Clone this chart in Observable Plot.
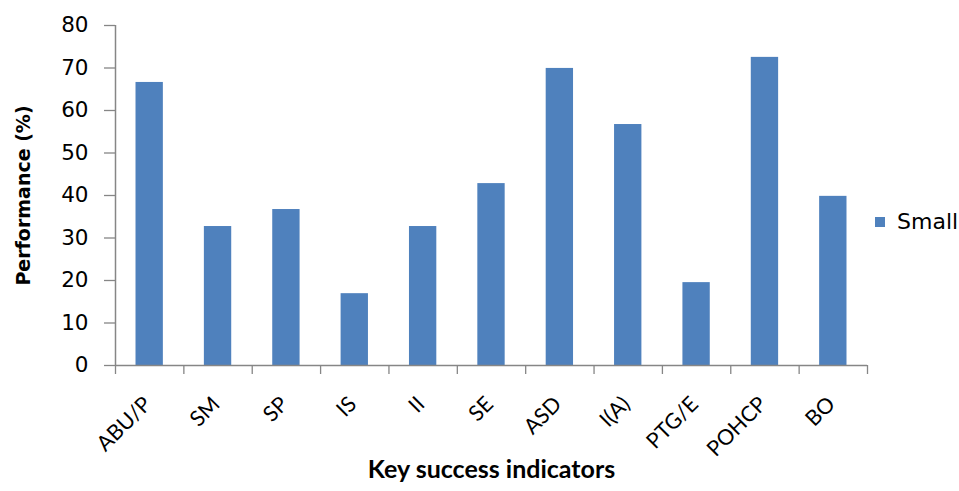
<!DOCTYPE html>
<html>
<head>
<meta charset="utf-8">
<script src="https://cdn.jsdelivr.net/npm/d3@7"></script>
<script src="https://cdn.jsdelivr.net/npm/@observablehq/plot@0.6"></script>
<style>
  html, body { margin: 0; padding: 0; background: #fff; }
  #wrap { position: relative; width: 959px; height: 491px; overflow: hidden; }
  #legend { position: absolute; left: 875px; top: 209px; display: flex; align-items: center;
            font-family: "DejaVu Sans", sans-serif; font-size: 22px; color: #000; white-space: nowrap; }
  #legend .sw { width: 10px; height: 10px; background: #4F81BD; margin-right: 12px; }
</style>
</head>
<body>
<div id="wrap"></div>
<script>
const categories = ["ABU/P", "SM", "SP", "IS", "II", "SE", "ASD", "I(A)", "PTG/E", "POHCP", "BO"];
const values = [66.6, 32.7, 36.7, 16.9, 32.7, 42.8, 69.9, 56.7, 19.5, 72.5, 39.8];
const yTicks = [0, 10, 20, 30, 40, 50, 60, 70, 80];
const seriesName = "Small";
const xTitle = "Key success indicators";
const yTitle = "Performance (%)";

const data = categories.map((c, i) => ({i, category: c, value: values[i]}));
const boundaries = d3.range(0, categories.length + 1);
const axisColor = "#868686";
const barColor = "#4F81BD";

const chart = Plot.plot({
  width: 959,
  height: 491,
  marginLeft: 115,
  marginRight: 92,
  marginTop: 25,
  marginBottom: 126,
  style: {background: "#fff", color: "#000"},
  x: {domain: [0, categories.length], axis: null},
  y: {domain: [0, 80], axis: null},
  marks: [
    Plot.rectY(data, {x1: d => d.i + 0.3, x2: d => d.i + 0.7, y1: 0, y2: "value", fill: barColor}),
    Plot.axisY({ticks: yTicks, tickSize: 11, tickFormat: () => "", stroke: axisColor, strokeWidth: 1.3, strokeOpacity: 1, label: null}),
    Plot.axisY({ticks: yTicks, tickSize: 0, tickPadding: 27, fontSize: 21.5, fontFamily: "DejaVu Sans", fill: "#000", label: null}),
    Plot.ruleX([0], {stroke: axisColor, strokeWidth: 1.5}),
    Plot.ruleY([0], {stroke: axisColor, strokeWidth: 1.5}),
    Plot.axisX({ticks: boundaries, tickSize: 9, tickFormat: () => "", stroke: axisColor, strokeWidth: 1.3, strokeOpacity: 1, label: null}),
    Plot.text(categories, {x: (d, i) => i + 0.5, frameAnchor: "bottom", rotate: -45, textAnchor: "end",
      dx: 3, dy: 40, fontSize: 21.5, fontFamily: "Lato", fill: "#000"}),
    Plot.text([xTitle], {frameAnchor: "bottom", dy: 112, fontSize: 25, fontWeight: "bold", fontFamily: "Lato", fill: "#000"}),
    Plot.text([yTitle], {frameAnchor: "left", textAnchor: "middle", dx: -92, rotate: -90, fontSize: 19, fontWeight: "bold", fontFamily: "DejaVu Sans", fill: "#000"})
  ]
});

const wrap = document.getElementById("wrap");
wrap.appendChild(chart);
const legend = document.createElement("div");
legend.id = "legend";
legend.innerHTML = `<div class="sw"></div><span>${seriesName}</span>`;
wrap.appendChild(legend);
</script>
</body>
</html>
